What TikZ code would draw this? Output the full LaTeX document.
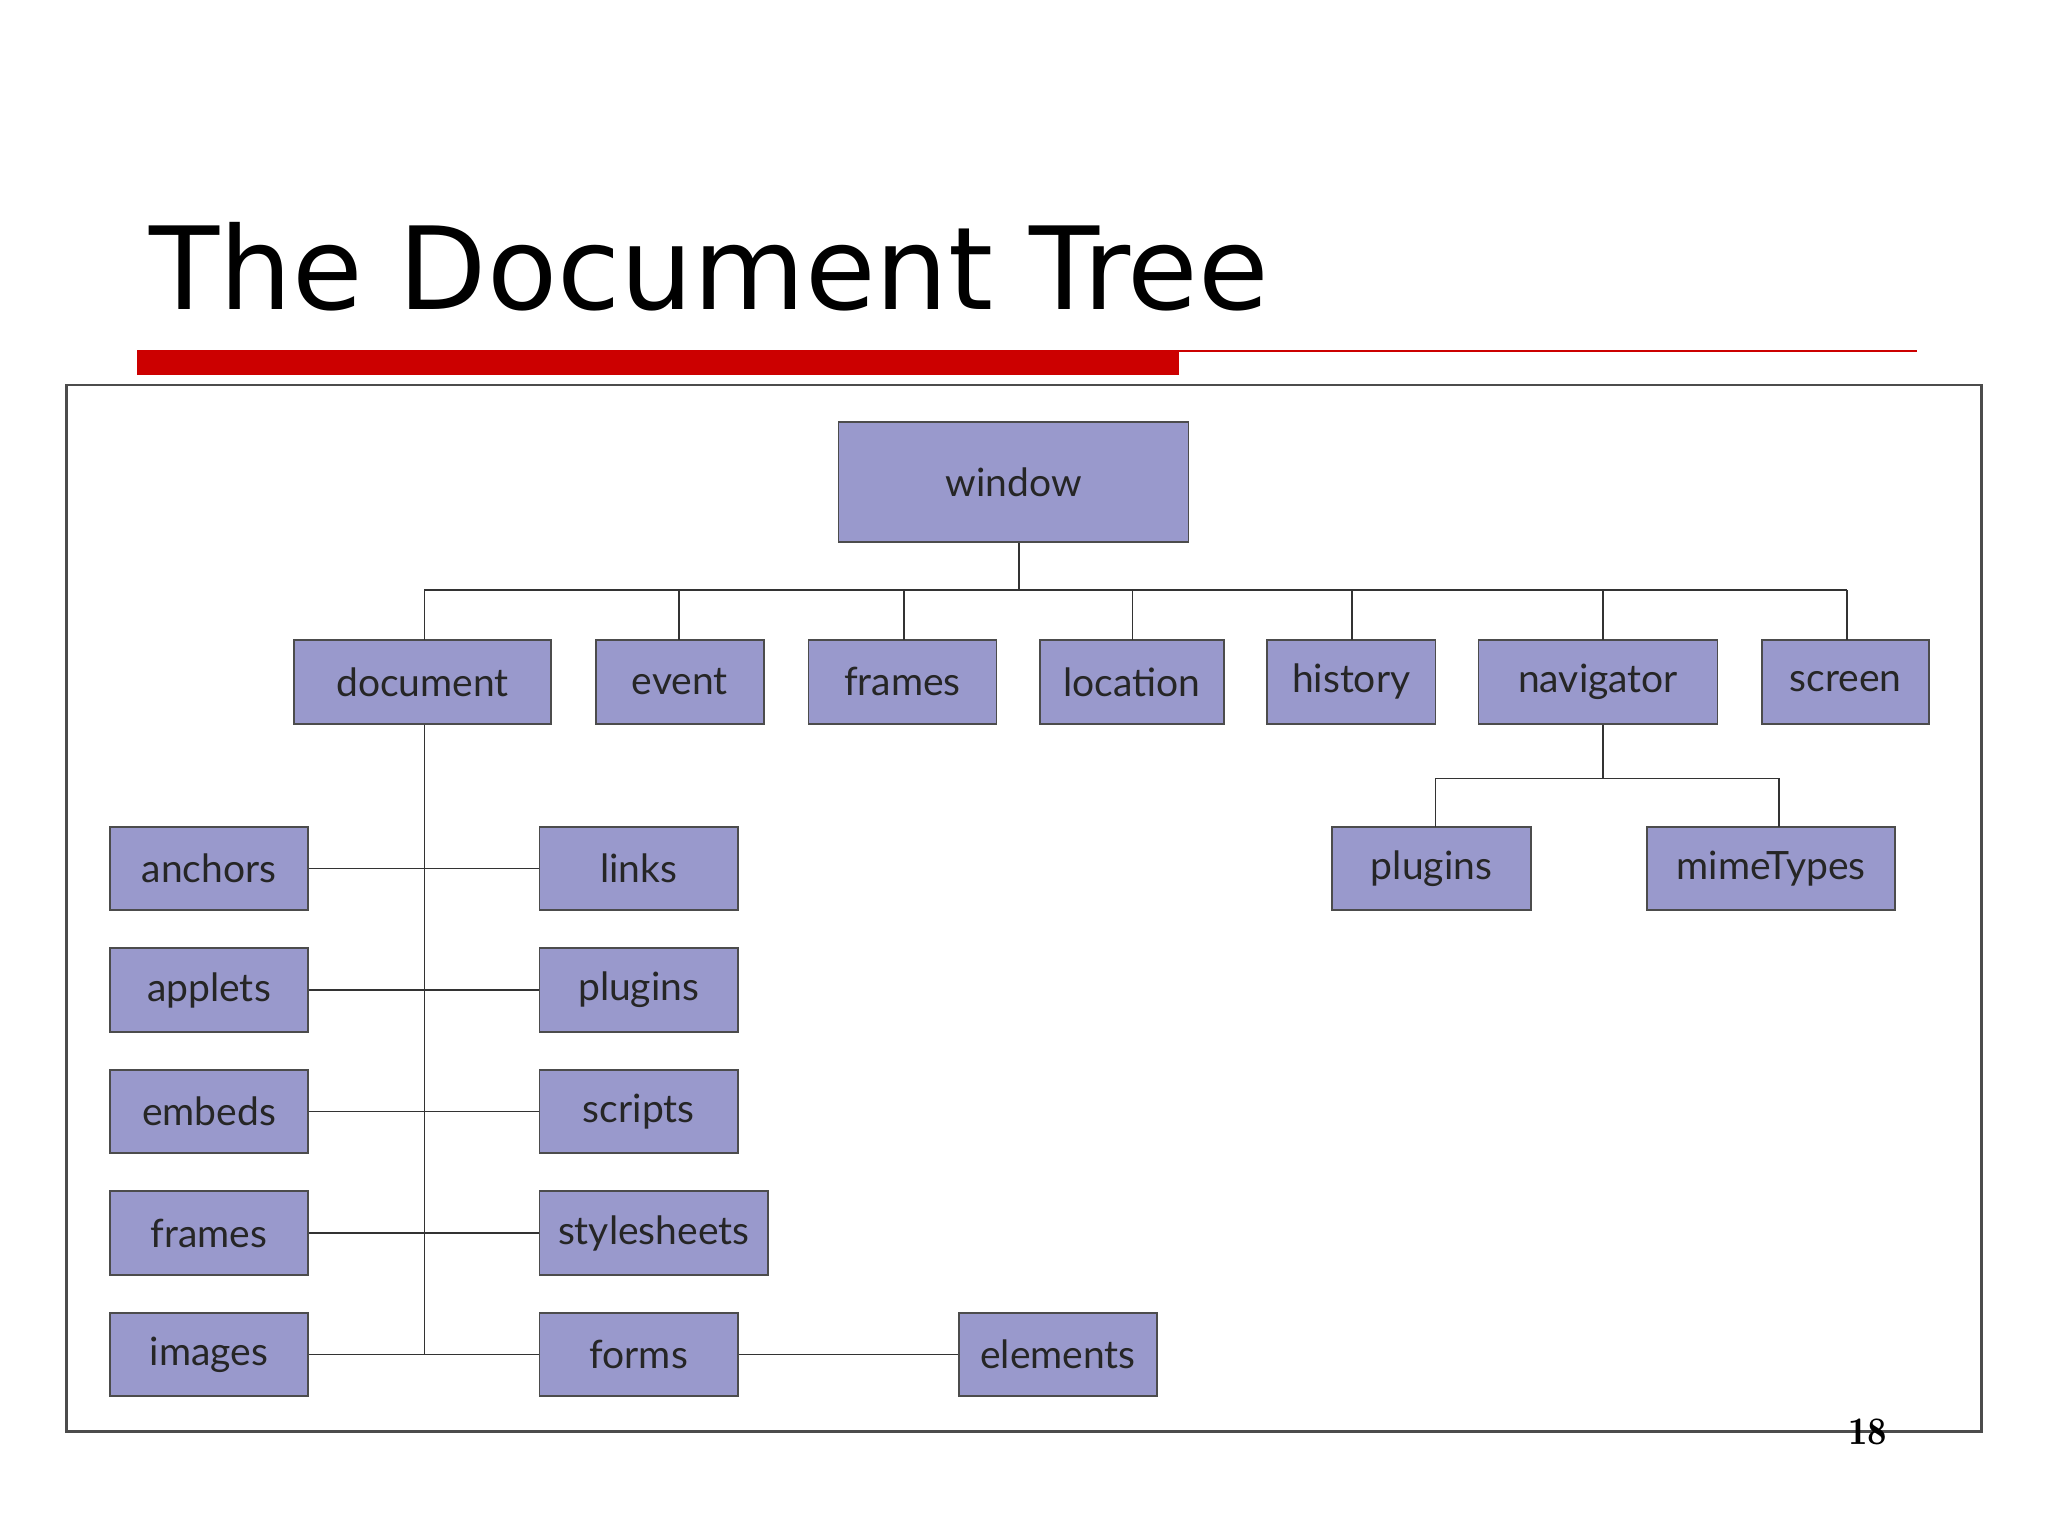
\documentclass[tikz,border=0pt]{standalone}
\usepackage{fontspec}
\setmainfont{DejaVu Sans}
\newfontfamily\boxfont{Lato}
\begin{document}
\begin{tikzpicture}[x=0.02cm,y=-0.02cm,
  bx/.style={draw=black!70,line width=0.8pt,fill={rgb,255:red,153;green,153;blue,204},minimum height=1.28cm,inner sep=0pt,font=\boxfont\fontsize{17}{20}\selectfont,text=black!85},
  ln/.style={draw=black!80,line width=0.8pt}]
\useasboundingbox (0,0) rectangle (1568,1176);
\node[anchor=base west,font=\fontsize{50}{60}\selectfont] (title) at (108,237) {The Document Tree};
\fill[red!80!black] (105,268) rectangle (903,287);
\draw[red!80!black,line width=1pt] (903,268.5) -- (1468,268.5);
\draw[black!70,line width=1pt] (51,295) rectangle (1517,1096);
% nodes
\node[bx,minimum width=5.36cm,minimum height=1.84cm] (win) at (776,369) {window};
\node[bx,minimum width=3.94cm] (doc) at (323.5,522) {document};
\node[bx,minimum width=2.58cm] (ev) at (520.5,522) {event};
\node[bx,minimum width=2.88cm] (fr) at (691,522) {frames};
\node[bx,minimum width=2.82cm] (loc) at (866.5,522) {location};
\node[bx,minimum width=2.58cm] (his) at (1034.5,522) {history};
\node[bx,minimum width=3.66cm] (nav) at (1223.5,522) {navigator};
\node[bx,minimum width=2.56cm] (scr) at (1413,522) {screen};
\node[bx,minimum width=3.04cm] (plg) at (1096,665) {plugins};
\node[bx,minimum width=3.80cm] (mime) at (1356,665) {mimeTypes};
\foreach \n/\t [count=\i from 0] in {anc/anchors,app/applets,emb/embeds,lfr/frames,img/images}
  \node[bx,minimum width=3.04cm] (\n) at (160,665+93*\i) {\t};
\node[bx,minimum width=3.04cm] (lnk) at (489,665) {links};
\node[bx,minimum width=3.04cm] (rpl) at (489,758) {plugins};
\node[bx,minimum width=3.04cm] (scp) at (489,851) {scripts};
\node[bx,minimum width=3.50cm] (sty) at (500.5,944) {stylesheets};
\node[bx,minimum width=3.04cm] (frm) at (489,1037) {forms};
\node[bx,minimum width=3.04cm] (ele) at (810,1037) {elements};
% connectors
\coordinate (bus) at (780,452);
\draw[ln] (win.south -| bus) -- (bus);
\draw[ln] (325,452) -- (1414,452);
\foreach \n/\x in {doc/325,ev/520,fr/692,loc/867,his/1035,nav/1227,scr/1414}
  \draw[ln] (\x,452) -- (\x,490);
\draw[ln] (nav.south -| 1227,0) -- (1227,596);
\draw[ln] (1099,633) -- (1099,596) -- (1362,596) -- (1362,633);
\draw[ln] (doc.south -| 325,0) -- (325,1037);
\foreach \a/\b in {anc/lnk,app/rpl,emb/scp,lfr/sty,img/frm}
  \draw[ln] (\a.east) -- (\a.east -| \b.west);
\draw[ln] (frm) -- (ele);
\node[font=\fontfamily{lmr}\selectfont\bfseries\fontsize{17}{20}\selectfont] (pg) at (1430,1096) {18};
\end{tikzpicture}
\end{document}
